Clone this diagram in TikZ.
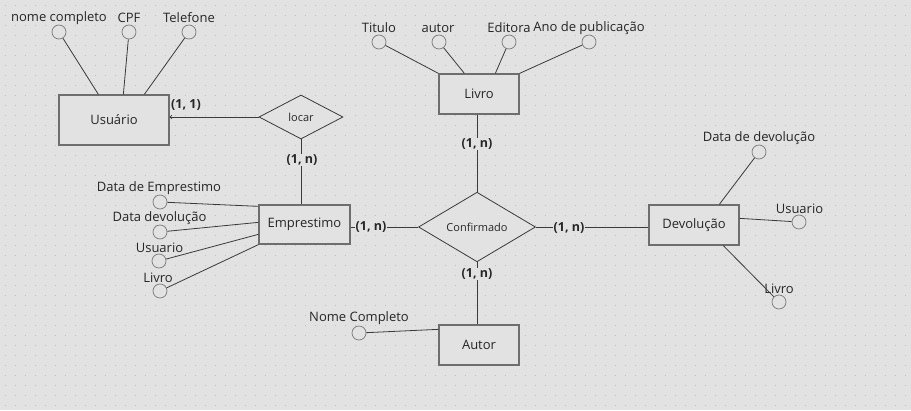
\documentclass[tikz,border=0pt]{standalone}
\usepackage{fontspec}
\setmainfont{Open Sans}
\usetikzlibrary{shapes.geometric,calc,arrows.meta}
\definecolor{bg}{HTML}{E2E2E2}
\definecolor{dotc}{HTML}{BDBDBD}
\definecolor{boxc}{HTML}{6E6E6E}
\definecolor{attc}{HTML}{7A7A7A}
\definecolor{linec}{HTML}{3A3A3A}
\definecolor{txt}{HTML}{262626}
\begin{document}
\begin{tikzpicture}[x=1pt,y=-1pt,
  font=\fontsize{13}{15}\selectfont, text=txt,
  ent/.style={draw=boxc, line width=1.3pt, fill=bg, inner sep=0},
  rel/.style={diamond, draw=linec, line width=0.8pt, fill=bg, inner sep=0,
              font=\fontsize{11}{13}\selectfont},
  att/.style={circle, draw=attc, line width=0.7pt, fill=bg, minimum size=14, inner sep=0},
  lab/.style={inner sep=0},
  con/.style={draw=linec, line width=0.8pt},
  card/.style={inner sep=1pt, fill=bg, font=\fontsize{12.5}{14}\selectfont\bfseries}]
% background
\fill[bg] (0,0) rectangle (911,410);
\foreach \gx in {5,15,...,905}{
  \foreach \gy in {5,15,...,405}{
    \fill[dotc] (\gx,\gy) rectangle ++(1,1);
  }
}
\useasboundingbox (0,0) rectangle (911,410);

% entities
\node[ent, minimum width=110, minimum height=50] (usu) at (114,120) {Usuário};
\node[ent, minimum width=80, minimum height=40] (livro) at (479,94) {Livro};
\node[ent, minimum width=91, minimum height=39] (emp) at (304.5,224.5) {Emprestimo};
\node[ent, minimum width=80, minimum height=40] (autor) at (479,345) {Autor};
\node[ent, minimum width=90, minimum height=40] (dev) at (694,225) {Devolução};

% relationships
\node[rel, minimum width=84, minimum height=44] (locar) at (301,117) {locar};
\node[rel, minimum width=117, minimum height=45] (conf) at (477,227) {Confirmado};

% attributes of Usuario
\node[att] (a1) at (59,32) {};
\node[att] (a2) at (129,32) {};
\node[att] (a3) at (189,32) {};
\node[lab] (la1) at (59,18) {nome completo};
\node[lab] (la2) at (129,18) {CPF};
\node[lab] (la3) at (189,18) {Telefone};

% attributes of Livro
\node[att] (b1) at (379,42) {};
\node[att] (b2) at (439,42) {};
\node[att] (b3) at (509,42) {};
\node[att] (b4) at (589,42) {};
\node[lab] (lb1) at (379,28) {Titulo};
\node[lab] (lb2) at (438,28) {autor};
\node[lab] (lb3) at (509,28) {Editora};
\node[lab] (lb4) at (589,28) {Ano de publicação};

% attributes of Emprestimo
\node[att] (e1) at (160,202) {};
\node[att] (e2) at (160,232) {};
\node[att] (e3) at (159,261) {};
\node[att] (e4) at (160,291) {};
\node[lab] (le1) at (159,188) {Data de Emprestimo};
\node[lab] (le2) at (159.5,218) {Data devolução};
\node[lab] (le3) at (159.5,248) {Usuario};
\node[lab] (le4) at (158,278) {Livro};

% attribute of Autor
\node[att] (n1) at (359,333) {};
\node[lab] (ln1) at (359,318) {Nome Completo};

% attributes of Devolucao
\node[att] (d1) at (759,152) {};
\node[att] (d2) at (799,222) {};
\node[att] (d3) at (779,302) {};
\node[lab] (ld1) at (759,138) {Data de devolução};
\node[lab] (ld2) at (799.5,209) {Usuario};
\node[lab] (ld3) at (779,289) {Livro};

% attribute lines
\draw[con] (a1) -- ($(usu.north west)+(40,0)$);
\draw[con] (a2) -- ($(usu.north west)+(65,0)$);
\draw[con] (a3) -- ($(usu.north west)+(86,0)$);
\draw[con] (b1) -- (livro.north west);
\draw[con] (b2) -- ($(livro.north west)+(26,0)$);
\draw[con] (b3) -- ($(livro.north west)+(57,0)$);
\draw[con] (b4) -- (livro.north east);
\draw[con] (e1) -- ($(emp.north west)+(0,2)$);
\draw[con] (e2) -- ($(emp.north west)+(0,18)$);
\draw[con] (e3) -- ($(emp.north west)+(0,30)$);
\draw[con] (e4) -- (emp.south west);
\draw[con] (n1) -- ($(autor.north west)+(0,5)$);
\draw[con] (d1) -- ($(dev.north west)+(71,0)$);
\draw[con] (d2) -- ($(dev.north east)+(0,14)$);
\draw[con] (d3) -- ($(dev.south west)+(75,0)$);

% relationship lines
\draw[con, -{To[length=2.5pt,width=4pt]}] (locar.west) -- (locar.west -| usu.east);
\draw[con] (locar.south) -- (locar.south |- emp.north);
\draw[con] (conf.west -| emp.east) -- (conf.west);
\draw[con] (conf.north |- livro.south) -- (conf.north);
\draw[con] (conf.south) -- (conf.south |- autor.north);
\draw[con] (conf.east) -- (conf.east -| dev.west);

% cardinalities
\node[card, fill=none] (c1) at (186,105) {(1, 1)};
\node[card] (c2) at (302,160) {(1, n)};
\node[card] (c3) at (371,227) {(1, n)};
\node[card] (c4) at (477,144) {(1, n)};
\node[card] (c5) at (477,274) {(1, n)};
\node[card] (c6) at (569,228) {(1, n)};
\end{tikzpicture}
\end{document}
